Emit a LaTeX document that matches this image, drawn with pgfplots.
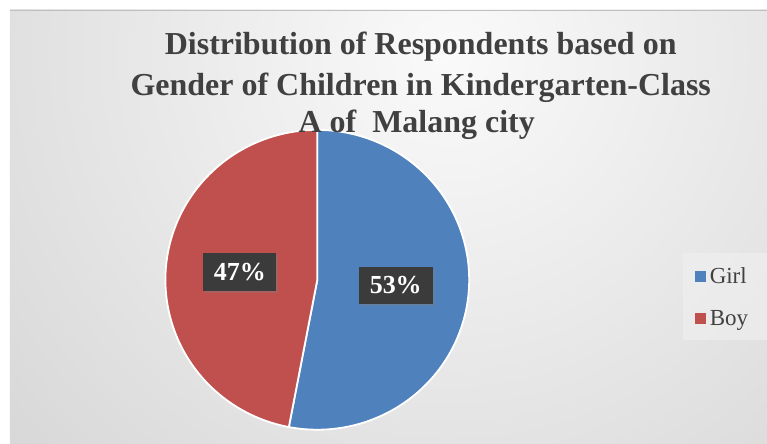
\documentclass[border=0pt]{standalone}
\usepackage{fontspec}
\setmainfont{Liberation Serif}
\usepackage{pgfplots}
\pgfplotsset{compat=1.18}
\usepackage{pgfplotstable}
\usetikzlibrary{shadows}
\definecolor{girl}{HTML}{4F81BD}
\definecolor{boy}{HTML}{C0504D}
\definecolor{titlegray}{HTML}{404040}
\definecolor{labelbg}{HTML}{3B3B3B}
\pgfplotstableread{
label value
Girl 53
Boy 47
}\piedata
\pgfplotstablegetelem{0}{value}\of\piedata \let\girlv\pgfplotsretval
\pgfplotstablegetelem{1}{value}\of\piedata \let\boyv\pgfplotsretval
\pgfmathsetmacro\splitang{90-3.6*\girlv}
\pgfmathsetmacro\boyend{\splitang-3.6*\boyv}
\def\cx{317.5}
\def\cy{164}
\def\rx{152}
\def\ry{150}
\begin{document}
\begin{tikzpicture}
\fill[white] (0,0) rectangle (767pt,444pt);
\begin{scope}
\clip (10pt,0pt) rectangle (767pt,434pt);
\shade[inner color=black!2, outer color=black!26] (450pt,390pt) circle (1050pt);
\end{scope}
\draw[black!25, line width=1pt] (10pt,433.5pt) -- (767pt,433.5pt);
\fill[black!6, opacity=0.6] (683pt,104pt) rectangle (767pt,191pt);
\begin{axis}[
  at={(0,0)}, anchor=south west,
  width=767pt, height=444pt, scale only axis,
  xmin=0, xmax=767, ymin=0, ymax=444,
  axis lines=none, clip=false,
  legend cell align=left,
  legend style={at={(axis cs:690,180)}, anchor=north west, draw=none, fill=none,
    font=\fontsize{23}{25}\selectfont, text=titlegray, row sep=21pt, column sep=0pt,
    inner xsep=2pt, inner ysep=2pt},
  legend image code/.code={\fill[#1,draw=none] (3pt,-5.5pt) rectangle (14pt,5.5pt);
    \path[draw=none,fill=none] (0pt,0pt) -- (16pt,0pt);},
]
\addplot[fill=girl, draw=white, line width=1.8pt, domain=90:\splitang, samples=120, variable=\t]
  ({\cx+\rx*cos(t)},{\cy+\ry*sin(t)}) -- (axis cs:\cx,\cy) -- cycle;
\addlegendentry{Girl}
\addplot[fill=boy, draw=white, line width=1.8pt, domain=\splitang:\boyend, samples=120, variable=\t]
  ({\cx+\rx*cos(t)},{\cy+\ry*sin(t)}) -- (axis cs:\cx,\cy) -- cycle;
\addlegendentry{Boy}
\node[fill=labelbg, text=white, font=\bfseries\fontsize{26}{30}\selectfont,
  minimum width=73pt, minimum height=38pt, inner sep=0pt,
  drop shadow={shadow xshift=2pt, shadow yshift=-2pt, opacity=0.35}]
  at (axis cs:240,172) {47\%};
\node[fill=labelbg, text=white, font=\bfseries\fontsize{26}{30}\selectfont,
  minimum width=74pt, minimum height=37pt, inner sep=0pt,
  drop shadow={shadow xshift=2pt, shadow yshift=-2pt, opacity=0.35}]
  at (axis cs:396,158.5) {53\%};
\node[anchor=base, text=titlegray, font=\bfseries\fontsize{32}{38}\selectfont]
  at (axis cs:421,389) {Distribution of Respondents based on};
\node[anchor=base, text=titlegray, font=\bfseries\fontsize{32}{38}\selectfont]
  at (axis cs:421,348) {Gender of Children in Kindergarten-Class};
\node[anchor=base, text=titlegray, font=\bfseries\fontsize{32}{38}\selectfont]
  at (axis cs:417,311) {A of\ \ Malang city};
\end{axis}
\end{tikzpicture}
\end{document}
